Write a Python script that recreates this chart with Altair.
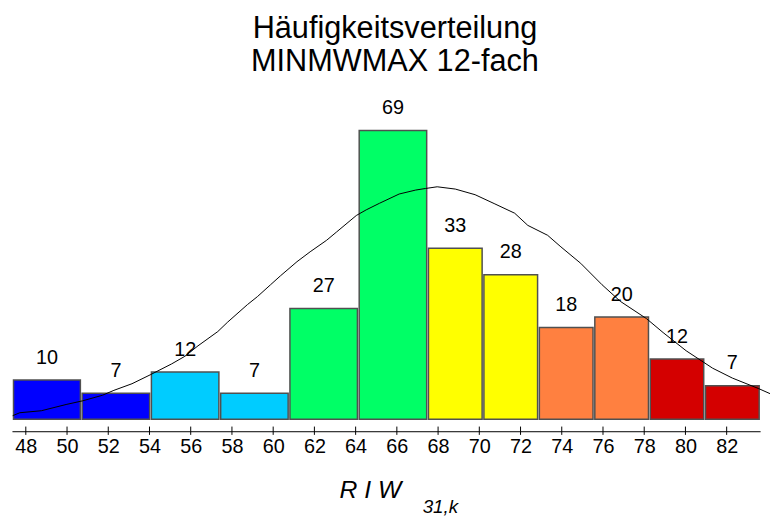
import altair as alt
import pandas as pd

title_lines = ["Häufigkeitsverteilung", "MINMWMAX 12-fach"]
bin_edges = [47.36, 50.69, 54.05, 57.41, 60.77, 64.13, 67.49, 70.18, 72.87, 75.56, 78.25, 80.93, 83.62]
counts = [10, 7, 12, 7, 27, 69, 33, 28, 18, 20, 12, 7]
bar_colors = ["#0000FF", "#0000FF", "#00CCFF", "#00CCFF", "#00FF66", "#00FF66",
              "#FFFF00", "#FFFF00", "#FF8040", "#FF8040", "#D40000", "#D40000"]
tick_values = [48, 50, 52, 54, 56, 58, 60, 62, 64, 66, 68, 70, 72, 74, 76, 78, 80, 82]

curve_x = [47.361, 47.712, 48.754, 49.954, 50.751, 51.711, 52.273, 53.151, 54.035, 55.072,
           55.715, 56.353, 57.313, 57.794, 58.754, 59.234, 59.872, 60.352, 61.154, 61.793,
           62.594, 63.074, 64.034, 64.514, 65.153, 66.113, 66.915, 67.395, 67.957, 68.836,
           69.796, 70.756, 71.716, 72.354, 73.314, 73.958, 74.918, 75.955, 76.838, 78.115,
           78.917, 80.035, 81.318, 82.278, 83.560, 84.102]
curve_y = [0.50, 0.709, 0.848, 1.287, 1.544, 1.933, 2.281, 2.747, 3.373, 4.138,
           4.673, 5.410, 6.412, 7.079, 8.310, 8.866, 9.701, 10.327, 11.321, 12.017,
           12.830, 13.408, 14.569, 14.965, 15.424, 16.078, 16.356, 16.467, 16.586, 16.426,
           16.029, 15.382, 14.729, 13.873, 13.178, 12.364, 11.210, 9.701, 8.540, 7.316,
           6.342, 5.063, 3.839, 3.143, 2.399, 2.051]

axis_title = "R I W"
axis_sub = "31,k"

FONT = "Liberation Sans"
W, H = 756, 325
X_DOM = [47.328, 83.622]
Y_DOM = [0.2434, 22.844]

bars = pd.DataFrame({"lo": bin_edges[:-1], "hi": bin_edges[1:], "n": counts, "c": bar_colors})
bars["h"] = bars["n"] / (bars["hi"] - bars["lo"])
bars["mid"] = (bars["lo"] + bars["hi"]) / 2

xs = alt.Scale(domain=X_DOM, nice=False, zero=False)
ys = alt.Scale(domain=Y_DOM, nice=False, zero=False)

rects = alt.Chart(bars).mark_rect(
    stroke="#505050", strokeWidth=1.5, xOffset=0.9, x2Offset=-0.9
).encode(
    x=alt.X("lo:Q", scale=xs, axis=alt.Axis(
        values=tick_values, ticks=False, domainColor="black", domainWidth=1,
        labelFontSize=20, labelFont=FONT, labelColor="black", labelPadding=5,
        offset=12, grid=False, title=None, labelFlush=False, labelOverlap=False)),
    x2="hi:Q",
    y=alt.Y("h:Q", scale=ys, axis=None),
    y2=alt.datum(Y_DOM[0]),
    color=alt.Color("c:N", scale=None),
)

labels = alt.Chart(bars).mark_text(
    fontSize=20, font=FONT, color="black", baseline="middle", dy=-22.5
).encode(
    x=alt.X("mid:Q", scale=xs),
    y=alt.Y("h:Q", scale=ys),
    text=alt.Text("n:Q"),
)

curve = alt.Chart(pd.DataFrame({"x": curve_x, "y": curve_y})).mark_line(
    color="black", strokeWidth=1
).encode(
    x=alt.X("x:Q", scale=xs),
    y=alt.Y("y:Q", scale=ys),
)

ticks = alt.Chart(pd.DataFrame({"t": tick_values})).mark_rule(
    color="black", strokeWidth=1
).encode(
    x=alt.X("t:Q", scale=xs),
    y=alt.value(H + 7.3),
    y2=alt.value(H + 15.7),
)

t_main = alt.Chart(pd.DataFrame({"s": [axis_title]})).mark_text(
    fontSize=25, font=FONT, fontStyle="italic", color="black", align="left", baseline="alphabetic"
).encode(x=alt.value(331), y=alt.value(404), text="s:N")

t_sub = alt.Chart(pd.DataFrame({"s": [axis_sub]})).mark_text(
    fontSize=19, font=FONT, fontStyle="italic", color="black", align="left", baseline="alphabetic"
).encode(x=alt.value(415), y=alt.value(420), text="s:N")

chart = alt.layer(rects, curve, labels, ticks, t_main, t_sub).properties(
    width=W, height=H,
    autosize=alt.AutoSizeParams(type="none"),
    padding={"left": 4, "top": 88, "right": 10, "bottom": 96},
    title=alt.TitleParams(
        text=title_lines, fontSize=31, font=FONT, fontWeight="normal", color="black",
        anchor="middle", dx=9, offset=20, lineHeight=33,
    ),
).configure(background="white").configure_view(strokeWidth=0, strokeOpacity=0)

chart.save("out.html", embed_options={"renderer": "svg", "actions": False})
